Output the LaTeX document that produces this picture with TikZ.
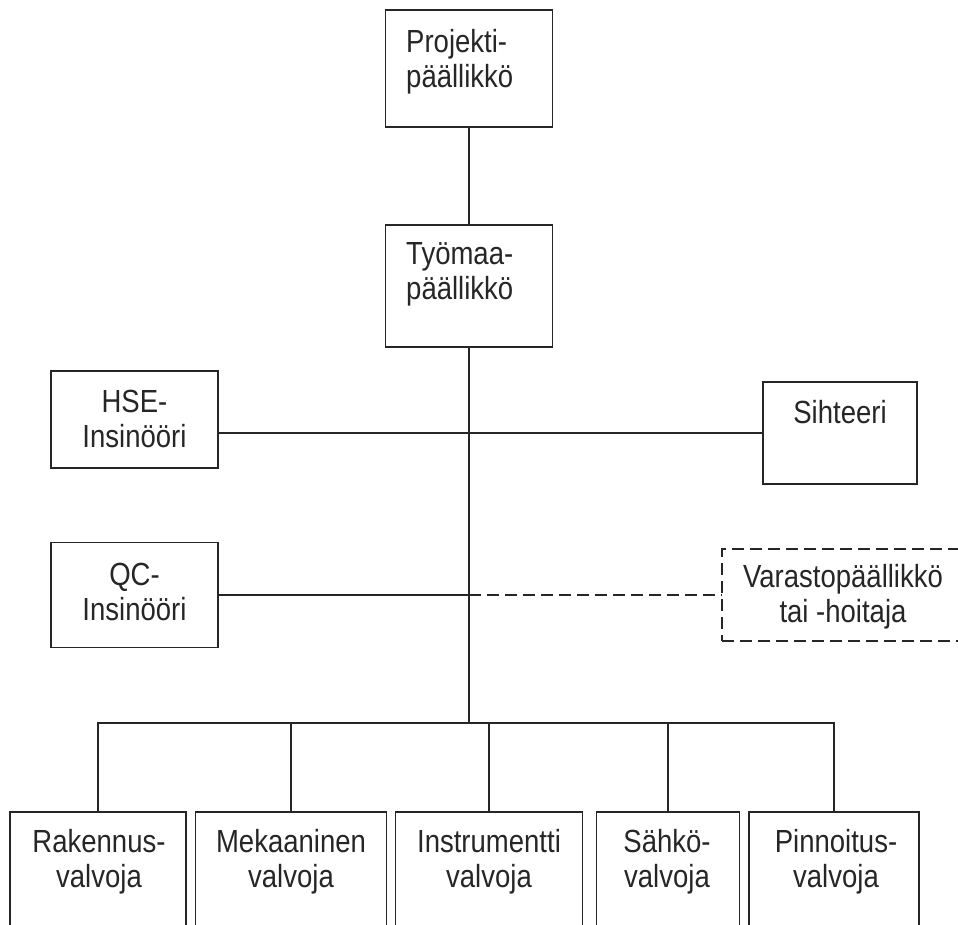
\documentclass[tikz,border=0pt]{standalone}
\usepackage{fontspec}
\setmainfont{Liberation Sans}[FakeStretch=0.86]
\begin{document}
\begin{tikzpicture}[x=1pt,y=-1pt,
    box/.style={draw=black!85,line width=1.8pt,rectangle,inner sep=0pt},
    lbl/.style={font=\fontsize{32}{35}\selectfont,text=black!85,inner sep=0pt,align=center,anchor=base},
    lbll/.style={lbl,align=left,anchor=base west},
    link/.style={draw=black!85,line width=1.8pt},
    maybe/.style={dash pattern=on 12pt off 6pt}]
  \useasboundingbox (0,0) rectangle (958,924);
  \clip (0,0) rectangle (958,924);
  % boxes
  \node[box,minimum width=167pt,minimum height=117pt] (pp) at (469,68.5) {};
  \node[box,minimum width=167pt,minimum height=122pt] (tp) at (469,286) {};
  \node[box,minimum width=167pt,minimum height=97pt] (hse) at (134.5,419.5) {};
  \node[box,minimum width=154pt,minimum height=102pt] (siht) at (840,433) {};
  \node[box,minimum width=167pt,minimum height=105pt] (qc) at (134.5,595) {};
  \node[box,maybe,minimum width=244pt,minimum height=92pt] (var) at (844,595) {};
  \node[box,minimum width=176pt,minimum height=140pt] (rak) at (98,882) {};
  \node[box,minimum width=191pt,minimum height=140pt] (mek) at (291,882) {};
  \node[box,minimum width=187pt,minimum height=140pt] (ins) at (489,882) {};
  \node[box,minimum width=143pt,minimum height=140pt] (sah) at (668,882) {};
  \node[box,minimum width=170pt,minimum height=140pt] (pin) at (834,882) {};
  % texts (base = last line)
  \node[lbll] (pp-t) at (406,87) {Projekti-\\päällikkö};
  \node[lbll] (tp-t) at (406,299) {Työmaa-\\päällikkö};
  \node[lbl] (hse-t) at (134.5,447) {HSE-\\Insinööri};
  \node[lbl] (siht-t) at (840,423) {Sihteeri};
  \node[lbl] (qc-t) at (134.5,620) {QC-\\Insinööri};
  \node[lbl] (var-t) at (843,622) {Varastopäällikkö\\tai -hoitaja};
  \node[lbl] (rak-t) at (99,887) {Rakennus-\\valvoja};
  \node[lbl] (mek-t) at (291,887) {Mekaaninen\\valvoja};
  \node[lbl] (ins-t) at (489,887) {Instrumentti\\valvoja};
  \node[lbl] (sah-t) at (667,887) {Sähkö-\\valvoja};
  \node[lbl] (pin-t) at (836,887) {Pinnoitus-\\valvoja};
  \coordinate (bus) at (469,723);
  \begin{scope}[link]
    \draw (pp) to (tp);
    \draw (tp.south) to (bus);
    \draw (siht.west -| hse.east) to (siht.west);
    \draw (qc.east) to (qc.east -| tp.south);
    \draw[maybe] (qc.east -| tp.south) to (var.west);
    \draw (rak.north) |- (bus);
    \draw (mek.north) |- (bus);
    \draw (ins.north) |- (bus);
    \draw (sah.north) |- (bus);
    \draw (pin.north) |- (bus);
  \end{scope}
\end{tikzpicture}
\end{document}
